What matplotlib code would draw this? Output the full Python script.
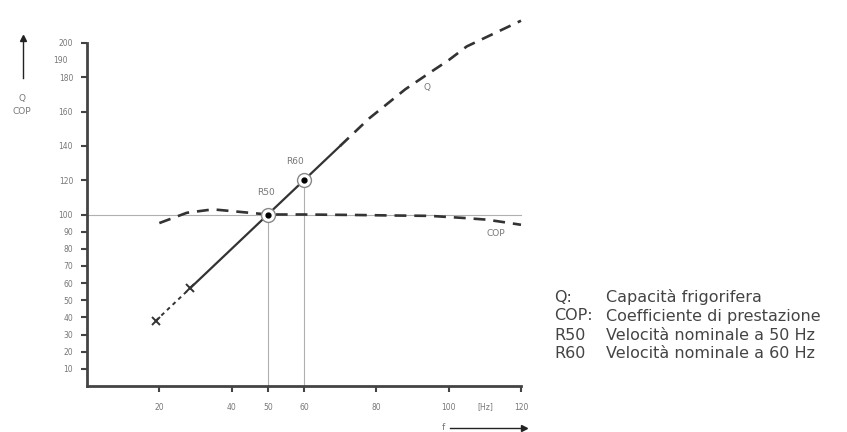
import matplotlib.pyplot as plt

# Dati
q_start_f = [19, 28.5]          # tratto iniziale (tratteggio fine)
q_start_v = [38, 57]
q_solid_f = [28.5, 50, 60, 70]  # tratto continuo
q_solid_v = [57, 100, 120, 140]
q_dash_f = [70, 78, 88, 95, 100, 105, 112, 120]
q_dash_v = [140, 156, 173, 183, 190, 198, 205, 213]

cop_f = [20, 27.6, 34.8, 41.4, 50, 60, 75, 85.6, 94.8, 104, 110.5, 116, 120]
cop_v = [95, 101, 103, 101.7, 100, 100, 99.7, 99.4, 99.2, 98, 97, 95.3, 94]

r_f = [50, 60]
r_v = [100, 120]
r_labels = ['R50', 'R60']

x_ticks = [20, 40, 50, 60, 80, 100, 120]
y_ticks = [10, 20, 30, 40, 50, 60, 70, 80, 90, 100, 120, 140, 160, 180, 200]

legend_keys = ['Q:', 'COP:', 'R50', 'R60']
legend_text = ['Capacità frigorifera', 'Coefficiente di prestazione',
               'Velocità nominale a 50 Hz', 'Velocità nominale a 60 Hz']

axis_col = '#444444'
txt_col = '#777777'

fig = plt.figure(figsize=(8.47, 4.32), dpi=100)
ax = fig.add_axes([87 / 847, 46 / 432, 434 / 847, 343 / 432])
ax.set_xlim(0, 120)
ax.set_ylim(0, 200)

# linee di riferimento sottili
ax.plot([0, 120], [100, 100], color='#b0b0b0', lw=0.8, clip_on=False)
ax.plot([50, 50], [0, 100], color='#b0b0b0', lw=0.8, clip_on=False)
ax.plot([60, 60], [0, 120], color='#b0b0b0', lw=0.8, clip_on=False)

# curva Q
ax.plot(q_start_f, q_start_v, color='#333333', lw=1.4, dashes=(2, 2), clip_on=False)
ax.plot(q_start_f, q_start_v, ls='none', marker='x', ms=6, mew=1.4, color='#333333', clip_on=False)
ax.plot(q_solid_f, q_solid_v, color='#333333', lw=1.6, clip_on=False)
ax.plot(q_dash_f, q_dash_v, color='#333333', lw=1.9, dashes=(4.5, 3), clip_on=False)

# curva COP
ax.plot(cop_f, cop_v, color='#333333', lw=1.9, dashes=(4.5, 3), clip_on=False)

# punti nominali
ax.plot(r_f, r_v, ls='none', marker='o', ms=10, mfc='white', mec='#888888', mew=1.0, clip_on=False)
ax.plot(r_f, r_v, ls='none', marker='o', ms=3.5, color='black', clip_on=False)
ax.text(49.5, 110, r_labels[0], fontsize=6.5, color=txt_col, ha='center', va='bottom')
ax.text(57.5, 128, r_labels[1], fontsize=6.5, color=txt_col, ha='center', va='bottom')

ax.text(94, 174, 'Q', fontsize=6.5, color=txt_col, ha='center', va='center')
ax.text(113, 89, 'COP', fontsize=6.5, color=txt_col, ha='center', va='center')

# assi
for s in ['top', 'right']:
    ax.spines[s].set_visible(False)
for s in ['left', 'bottom']:
    ax.spines[s].set_color(axis_col)
    ax.spines[s].set_linewidth(2)
ax.set_xticks(x_ticks)
ax.set_yticks(y_ticks)
ax.tick_params(axis='both', colors=axis_col, width=1.5, length=4, labelcolor=txt_col, labelsize=5.5)
ax.tick_params(axis='x', pad=8)
ax.tick_params(axis='y', pad=6)
ax.text(110, -12, '[Hz]', fontsize=5.5, color=txt_col, ha='center', va='center')
ax.text(-5.2, 190, '190', fontsize=5.5, color=txt_col, ha='right', va='center')

# etichette degli assi con frecce
fig.text(22 / 847, 1 - 99 / 432, 'Q', fontsize=6.5, color=txt_col, ha='center', va='center')
fig.text(22 / 847, 1 - 111 / 432, 'COP', fontsize=6.5, color=txt_col, ha='center', va='center')
fig.add_artist(plt.Line2D([23 / 847, 23 / 847], [1 - 78 / 432, 1 - 40 / 432], color='#222222', lw=1))
fig.add_artist(plt.Line2D([23 / 847], [1 - 38 / 432], marker='^', ms=4, color='#222222'))
fig.text(443 / 847, 1 - 428 / 432, 'f', fontsize=6.5, color=txt_col, ha='center', va='center')
fig.add_artist(plt.Line2D([450 / 847, 522 / 847], [1 - 428 / 432, 1 - 428 / 432], color='#222222', lw=1))
fig.add_artist(plt.Line2D([524 / 847], [1 - 428 / 432], marker='>', ms=4, color='#222222'))

# legenda testuale
for i in range(len(legend_keys)):
    y = 1 - (297 + 19 * i) / 432
    fig.text(554 / 847, y, legend_keys[i], fontsize=11.5, color='#444444', ha='left', va='center')
    fig.text(606 / 847, y, legend_text[i], fontsize=11.5, color='#444444', ha='left', va='center')

fig.savefig('out.png', dpi=100)
